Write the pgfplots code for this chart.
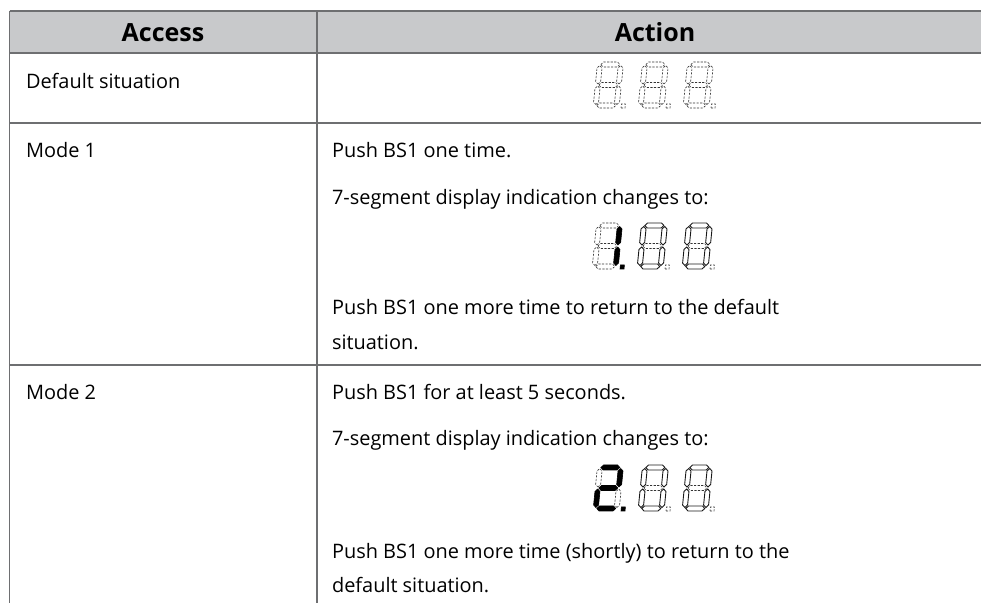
\documentclass[border=0pt]{standalone}
\usepackage{pgfplots}
\pgfplotsset{compat=1.18}
\usepackage{fontspec}
\setmainfont{Open Sans}
\definecolor{hdr}{HTML}{C8C9CB}
\definecolor{tline}{HTML}{6E6F71}
\definecolor{txt}{HTML}{231F20}
\pgfplotsset{
  dsh/.style={draw=black!80, dash pattern=on 1.1pt off 0.7pt, line width=0.3pt, fill=none},
  onf/.style={draw=black, fill=black, line width=0.3pt},
  sol/.style={draw=black!90, line width=0.45pt, fill=none},
  tl/.style={draw=tline, line width=0.9bp},
}
% polygon of a 7-segment digit, local u/v coordinates, slanted
\newcommand\poly[4]{%
  \gdef\polycoords{}%
  \foreach \u/\v in {#4} {%
    \pgfmathsetmacro\px{#2+\u+0.1*\v}%
    \pgfmathsetmacro\py{#3+\v}%
    \xdef\polycoords{\polycoords(\px,\py)}%
  }%
  \edef\doplot{\noexpand\addplot[\unexpanded{#1}] coordinates {\polycoords} -- cycle;}%
  \doplot
}
\newcommand\sA[3]{\poly{#1}{#2}{#3}{3.5/43.5,6/46,20/46,22.5/43.5,20/41,6/41}}
\newcommand\sG[3]{\poly{#1}{#2}{#3}{3.5/23,6/25.5,20/25.5,22.5/23,20/20.5,6/20.5}}
\newcommand\sD[3]{\poly{#1}{#2}{#3}{3.5/2.5,6/5,20/5,22.5/2.5,20/0,6/0}}
\newcommand\sF[3]{\poly{#1}{#2}{#3}{2.5/24,5/26.5,5/40,2.5/42.5,0/40,0/26.5}}
\newcommand\sE[3]{\poly{#1}{#2}{#3}{2.5/3.5,5/6,5/19.5,2.5/22,0/19.5,0/6}}
\newcommand\sB[3]{\poly{#1}{#2}{#3}{23.5/24,26/26.5,26/40,23.5/42.5,21/40,21/26.5}}
\newcommand\sC[3]{\poly{#1}{#2}{#3}{23.5/3.5,26/6,26/19.5,23.5/22,21/19.5,21/6}}
\newcommand\sP[3]{\poly{#1}{#2}{#3}{28/0,32/0,32/4,28/4}}
% digit states
\newcommand\digitDash[2]{\sA{dsh}{#1}{#2}\sB{dsh}{#1}{#2}\sC{dsh}{#1}{#2}\sD{dsh}{#1}{#2}\sE{dsh}{#1}{#2}\sF{dsh}{#1}{#2}\sG{dsh}{#1}{#2}\sP{dsh}{#1}{#2}}
\newcommand\digitZero[2]{\sA{sol}{#1}{#2}\sB{sol}{#1}{#2}\sC{sol}{#1}{#2}\sD{sol}{#1}{#2}\sE{sol}{#1}{#2}\sF{sol}{#1}{#2}\sG{dsh}{#1}{#2}\sP{dsh}{#1}{#2}}
\newcommand\digitOne[2]{\sA{dsh}{#1}{#2}\sB{onf}{#1}{#2}\sC{onf}{#1}{#2}\sD{dsh}{#1}{#2}\sE{dsh}{#1}{#2}\sF{dsh}{#1}{#2}\sG{dsh}{#1}{#2}\sP{onf}{#1}{#2}}
\newcommand\digitTwo[2]{\sA{onf}{#1}{#2}\sB{onf}{#1}{#2}\sC{dsh}{#1}{#2}\sD{onf}{#1}{#2}\sE{onf}{#1}{#2}\sF{dsh}{#1}{#2}\sG{onf}{#1}{#2}\sP{onf}{#1}{#2}}
\begin{document}
\begin{tikzpicture}
\begin{axis}[scale only axis, width=490.5bp, height=301.5bp,
  xmin=0, xmax=981, ymin=0, ymax=603, hide axis, clip=false,
  every node/.style={font=\fontsize{12.8bp}{16bp}\selectfont, text=txt, inner sep=0pt}]
% header background
\addplot[fill=hdr, draw=none] coordinates {(9.5,550) (981,550) (981,592) (9.5,592)} -- cycle;
% table rules
\addplot[tl] coordinates {(9.5,592) (981,592)};
\addplot[tl] coordinates {(9.5,550) (981,550)};
\addplot[tl] coordinates {(9.5,480) (981,480)};
\addplot[tl] coordinates {(9.5,238) (981,238)};
\addplot[tl] coordinates {(9.5,592) (9.5,0)};
\addplot[tl] coordinates {(317,592) (317,0)};
% header text
\node[anchor=base, font=\fontsize{12.5bp}{16bp}\selectfont\bfseries] at (axis cs:163,561.5) {Access};
\node[anchor=base, font=\fontsize{12.5bp}{16bp}\selectfont\bfseries] at (axis cs:655,561.5) {Action};
% column 1
\node[anchor=base west] at (axis cs:19,514) {Default situation};
\node[anchor=base west] at (axis cs:19,445) {Mode 1};
\node[anchor=base west] at (axis cs:19,203) {Mode 2};
% column 2
\node[anchor=base west] at (axis cs:325,445) {Push BS1 one time.};
\node[anchor=base west] at (axis cs:325,398) {7-segment display indication changes to:};
\node[anchor=base west] at (axis cs:325,288) {Push BS1 one more time to return to the default};
\node[anchor=base west] at (axis cs:325,253) {situation.};
\node[anchor=base west] at (axis cs:325,203) {Push BS1 for at least 5 seconds.};
\node[anchor=base west] at (axis cs:325,157) {7-segment display indication changes to:};
\node[anchor=base west] at (axis cs:325,45) {Push BS1 one more time (shortly) to return to the};
\node[anchor=base west] at (axis cs:325,11) {default situation.};
% displays
\digitDash{593}{495}\digitDash{638}{495}\digitDash{683}{495}
\digitOne{592}{334}\digitZero{637}{334}\digitZero{682}{334}
\digitTwo{593}{92}\digitZero{638}{92}\digitZero{682}{92}
\end{axis}
\pgfresetboundingbox
\path (current axis.south west) rectangle (current axis.north east);
\end{tikzpicture}
\end{document}
